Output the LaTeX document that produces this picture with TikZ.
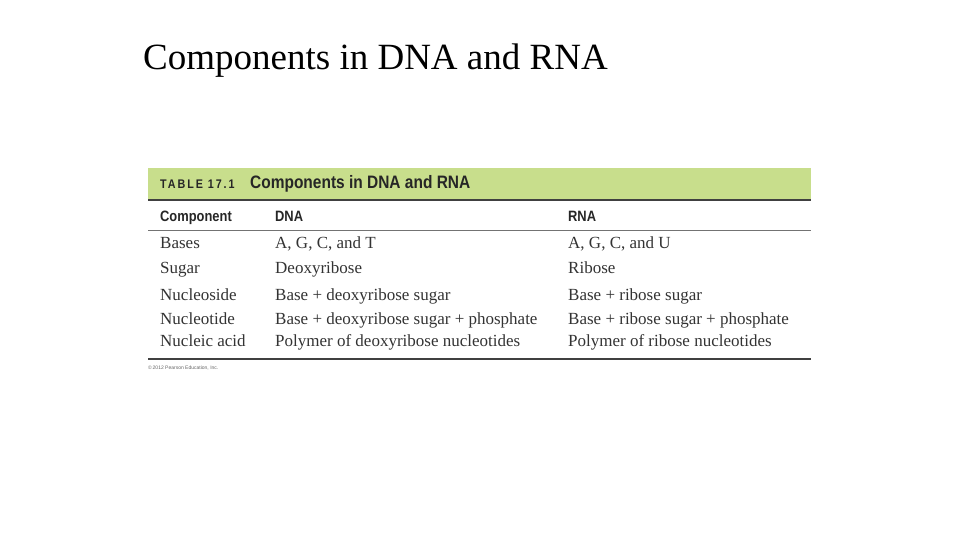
\documentclass[tikz,border=0pt]{standalone}
\usepackage{fontspec}
\setmainfont{Liberation Serif}
\setsansfont{Liberation Sans}
\definecolor{band}{HTML}{C8DE8C}
\begin{document}
\begin{tikzpicture}[x=1pt,y=-1pt,
  body/.style={anchor=base west,inner sep=0pt,font=\fontsize{17}{19}\selectfont,text=black!80},
  hd/.style={anchor=base west,inner sep=0pt,font=\sffamily\bfseries\fontsize{15}{17}\selectfont,text=black!85,xscale=0.86}]
\useasboundingbox (0,0) rectangle (960,540);
\node[anchor=base west,inner sep=0pt,font=\fontsize{37}{40}\selectfont] (title) at (143,70) {Components in DNA and RNA};
\fill[band] (148,168) rectangle (811,199);
\draw[line width=1.6pt,black!75] (148,200) -- (811,200);
\node[hd,font=\sffamily\bfseries\fontsize{12.5}{14}\selectfont\addfontfeature{LetterSpace=18}] (tab) at (160,189) {TABLE 17.1};
\node[hd,font=\sffamily\bfseries\fontsize{18}{20}\selectfont] (cap) at (250,189) {Components in DNA and RNA};
\node[hd] (h1) at (160,221) {Component};
\node[hd] (h2) at (275,221) {DNA};
\node[hd] (h3) at (568,221) {RNA};
\draw[line width=0.8pt,black!55] (148,230) -- (811,230);
\foreach \y/\a/\b/\c [count=\i] in {248/Bases/{A, G, C, and T}/{A, G, C, and U},
  273/Sugar/Deoxyribose/Ribose,
  300/Nucleoside/{Base + deoxyribose sugar}/{Base + ribose sugar},
  324/Nucleotide/{Base + deoxyribose sugar + phosphate}/{Base + ribose sugar + phosphate},
  346/Nucleic acid/{Polymer of deoxyribose nucleotides}/{Polymer of ribose nucleotides}}{
  \node[body] (r\i a) at (160,\y) {\a};
  \node[body] (r\i b) at (275,\y) {\b};
  \node[body] (r\i c) at (568,\y) {\c};
}
\draw[line width=1.6pt,black!75] (148,359) -- (811,359);
\node[anchor=base west,inner sep=0pt,font=\sffamily\fontsize{5}{6}\selectfont,text=black!60] (copy) at (148,369) {\textcopyright\,2012 Pearson Education, Inc.};
\end{tikzpicture}
\end{document}
